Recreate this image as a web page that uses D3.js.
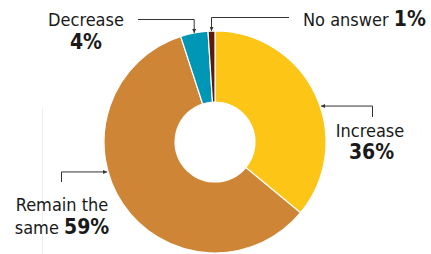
<!DOCTYPE html>
<html><head><meta charset="utf-8">
<script src="https://cdn.jsdelivr.net/npm/d3@7"></script>
<style>
html,body{margin:0;padding:0;background:#fff;}
svg{display:block;}
text{font-family:"DejaVu Sans Condensed","DejaVu Sans",sans-serif;fill:#1a1a1a;}
</style></head><body>
<script>
const categories = ["Increase", "Remain the same", "Decrease", "No answer"];
const values = [36, 59, 4, 1];
const colors = ["#FDC516", "#CE8535", "#0097B7", "#5B1A0C"];

const W = 431, H = 254;
const cx = 215, cy = 142, rOuter = 111, rInner = 40;

const svg = d3.select("body").append("svg").attr("width", W).attr("height", H);

// faint vertical rule
svg.append("line").attr("x1", 42.5).attr("x2", 42.5).attr("y1", 108).attr("y2", H)
  .attr("stroke", "#eeeeee").attr("stroke-width", 1);

const data = categories.map((c, i) => ({cat: c, value: values[i], color: colors[i]}));
const pie = d3.pie().value(d => d.value).sort(null);
const arcs = pie(data);
const arc = d3.arc().innerRadius(rInner).outerRadius(rOuter);

const g = svg.append("g").attr("transform", `translate(${cx},${cy})`);
g.selectAll("path").data(arcs).join("path")
  .attr("d", arc).attr("fill", d => d.data.color)
  .attr("stroke", "#fff").attr("stroke-width", 1.2).attr("stroke-linejoin", "miter");

// marker
const defs = svg.append("defs");
defs.append("marker").attr("id", "ah").attr("viewBox", "0 0 6 6").attr("refX", 6).attr("refY", 3)
  .attr("markerWidth", 4).attr("markerHeight", 4).attr("orient", "auto")
  .append("path").attr("d", "M0,0L6,3L0,6Z").attr("fill", "#333");

function pt(angle, r) { return [cx + r * Math.sin(angle), cy - r * Math.cos(angle)]; }

// leader lines
const lines = svg.append("g").attr("fill", "none").attr("stroke", "#333").attr("stroke-width", 1);
{
  const a = (arcs[2].startAngle + arcs[2].endAngle) / 2;
  const p = pt(a, rOuter);
  lines.append("path").attr("d", `M138,19.5H${p[0]}V${p[1]}`).attr("marker-end", "url(#ah)");
}
{
  const a = (arcs[3].startAngle + arcs[3].endAngle) / 2;
  const p = pt(a, rOuter);
  lines.append("path").attr("d", `M289,17.5H${p[0]}V${p[1]}`).attr("marker-end", "url(#ah)");
}
{
  const a = arcs[0].startAngle + (arcs[0].endAngle - arcs[0].startAngle) * 0.55;
  const p = pt(a, rOuter + 1);
  lines.append("path").attr("d", `M372.5,117V${p[1]}H${p[0]}`).attr("marker-end", "url(#ah)");
}
{
  const a = arcs[1].startAngle + (arcs[1].endAngle - arcs[1].startAngle) * 0.588;
  const p = pt(a, rOuter + 1);
  lines.append("path").attr("d", `M61.5,182V${p[1]}H${p[0]}`).attr("marker-end", "url(#ah)");
}

const fs = 18, fb = 21;
svg.append("text").attr("x", 86).attr("y", 26).attr("text-anchor", "middle").attr("font-size", fs).text("Decrease");
svg.append("text").attr("x", 86).attr("y", 49).attr("text-anchor", "middle").attr("font-size", fb).attr("font-weight", "bold").text(values[2] + "%");
{
  const t = svg.append("text").attr("x", 303).attr("y", 25.5).attr("font-size", fs);
  t.append("tspan").text("No answer ");
  t.append("tspan").attr("font-weight", "bold").attr("font-size", fb).text(values[3] + "%");
}
svg.append("text").attr("x", 370).attr("y", 137).attr("text-anchor", "middle").attr("font-size", fs).text("Increase");
svg.append("text").attr("x", 371.5).attr("y", 159).attr("text-anchor", "middle").attr("font-size", fb).attr("font-weight", "bold").text(values[0] + "%");
svg.append("text").attr("x", 62).attr("y", 211).attr("text-anchor", "middle").attr("font-size", fs).text("Remain the");
{
  const t = svg.append("text").attr("x", 62).attr("y", 233.5).attr("text-anchor", "middle").attr("font-size", fs);
  t.append("tspan").text("same ");
  t.append("tspan").attr("font-weight", "bold").attr("font-size", fb).text(values[1] + "%");
}
</script>
</body></html>
